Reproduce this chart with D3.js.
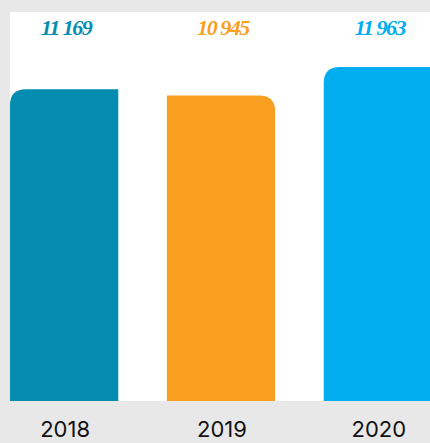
<!DOCTYPE html>
<html><head><meta charset="utf-8">
<script src="https://cdn.jsdelivr.net/npm/d3@7"></script>
<style>html,body{margin:0;padding:0;background:#e8e8e8;}svg{display:block;}</style>
</head><body>
<script>
const years = ["2018", "2019", "2020"];
const values = [11169, 10945, 11963];
const valueLabels = ["11 169", "10 945", "11 963"];
const colors = ["#048db0", "#f99f1f", "#00adee"];
const roundedCorner = ["left", "right", "left"];

const W = 430, H = 443;
const svg = d3.select("body").append("svg").attr("width", W).attr("height", H);
svg.append("rect").attr("width", W).attr("height", H).attr("fill", "#e8e8e8");
svg.append("rect").attr("x", 10).attr("y", 12).attr("width", W - 10).attr("height", 389).attr("fill", "#fff");

const x = d3.scaleBand().domain(years).range([10, 432]).paddingInner(0.31).paddingOuter(0);
const y = d3.scaleLinear().domain([0, 11963]).range([401, 67]);
const r = 16;

function barPath(i) {
  const x0 = x(years[i]), x1 = x0 + x.bandwidth(), y0 = y(values[i]), yb = y(0);
  if (roundedCorner[i] === "left") {
    return `M${x0},${yb}V${y0 + r}Q${x0},${y0} ${x0 + r},${y0}H${x1}V${yb}Z`;
  }
  return `M${x0},${yb}V${y0}H${x1 - r}Q${x1},${y0} ${x1},${y0 + r}V${yb}Z`;
}

svg.selectAll("path.bar").data(years).join("path")
  .attr("class", "bar")
  .attr("d", (d, i) => barPath(i))
  .attr("fill", (d, i) => colors[i]);

svg.selectAll("text.val").data(years).join("text")
  .attr("class", "val")
  .attr("x", d => x(d) + x.bandwidth() / 2 + 2)
  .attr("y", 35)
  .attr("text-anchor", "middle")
  .attr("font-family", "Liberation Serif")
  .attr("font-weight", "bold")
  .attr("font-style", "italic")
  .attr("font-size", 22)
  .attr("letter-spacing", -1.5)
  .attr("fill", (d, i) => colors[i])
  .text((d, i) => valueLabels[i]);

svg.selectAll("text.year").data(years).join("text")
  .attr("class", "year")
  .attr("x", d => x(d) + x.bandwidth() / 2 + 1)
  .attr("y", 437)
  .attr("text-anchor", "middle")
  .attr("font-family", "Inter")
  .attr("font-size", 22)
  .attr("fill", "#111")
  .text(d => d);
</script>
</body></html>
